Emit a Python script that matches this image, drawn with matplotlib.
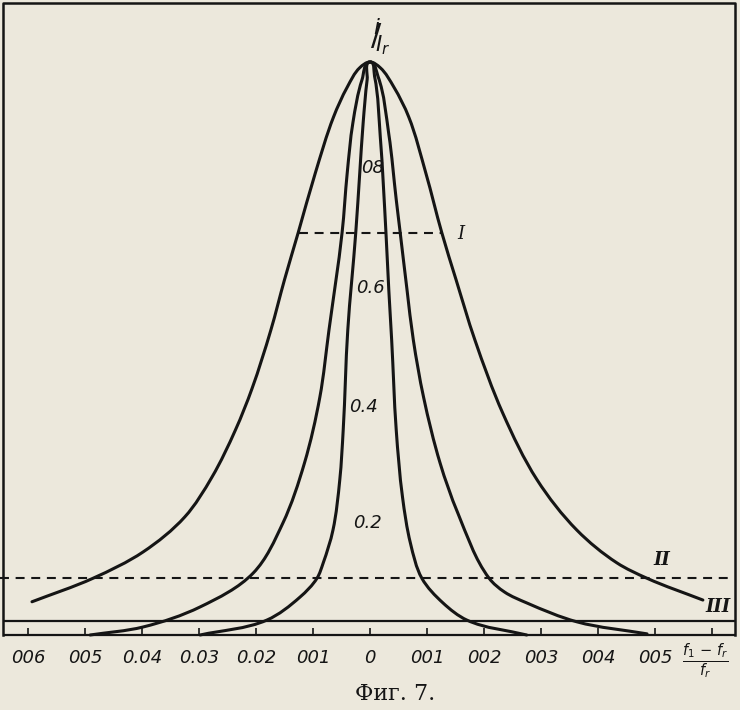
import matplotlib
matplotlib.use("Agg")
import matplotlib.pyplot as plt
from matplotlib.path import Path
from matplotlib.patches import PathPatch
import numpy as np

# ---------------- data ----------------
# relative detuning (f1 - fr)/fr  and  i/Ir for the three resonance curves
delta_wide = [-0.0593, -0.0486, -0.0398, -0.0325, -0.0277, -0.0236, -0.0207, -0.0174,
              -0.0150, -0.0126, -0.0096, -0.0064, -0.0040, -0.0018, 0.0,
              0.0018, 0.0042, 0.0068, 0.0098, 0.0126, 0.0151, 0.0184, 0.0233,
              0.0293, 0.0363, 0.0433, 0.0486, 0.0584]
ratio_wide = [0.058, 0.099, 0.145, 0.206, 0.276, 0.358, 0.430, 0.532,
              0.620, 0.702, 0.806, 0.904, 0.956, 0.990, 1.0,
              0.990, 0.956, 0.904, 0.806, 0.702, 0.620, 0.515, 0.387,
              0.271, 0.183, 0.126, 0.099, 0.061]

delta_mid = [-0.0491, -0.0398, -0.0298, -0.0205, -0.0153, -0.0115, -0.0088, -0.0072,
             -0.0049, -0.0040, -0.0030, -0.0014, 0.0,
             0.0014, 0.0033, 0.0046, 0.0053, 0.0065, 0.0076, 0.0094, 0.0123,
             0.0154, 0.0209, 0.0236, 0.0275, 0.0363, 0.0486]
ratio_mid = [0.0, 0.014, 0.049, 0.108, 0.195, 0.300, 0.415, 0.532,
             0.702, 0.806, 0.894, 0.969, 1.0,
             0.975, 0.874, 0.760, 0.702, 0.602, 0.515, 0.415, 0.300,
             0.213, 0.099, 0.075, 0.056, 0.023, 0.002]

delta_narrow = [-0.0298, -0.0181, -0.0123, -0.0093, -0.0082, -0.0065, -0.0053, -0.0047,
                -0.0039, -0.0025, -0.0018, -0.0012, -0.0005, 0.0,
                0.0008, 0.0018, 0.0028, 0.0033, 0.0038, 0.0046, 0.0057, 0.0071,
                0.0091, 0.0128, 0.0170, 0.0275]
ratio_narrow = [0.0, 0.026, 0.066, 0.099, 0.126, 0.183, 0.271, 0.358,
                0.532, 0.702, 0.806, 0.894, 0.969, 1.0,
                0.975, 0.870, 0.702, 0.602, 0.515, 0.358, 0.241, 0.160,
                0.099, 0.056, 0.026, 0.0]

level_I = 0.702
span_I = [-0.0125, 0.0125]
level_II = 0.1
span_II = [-0.0649, 0.0632]

x_ticks = [-0.06, -0.05, -0.04, -0.03, -0.02, -0.01, 0.0,
           0.01, 0.02, 0.03, 0.04, 0.05, 0.06]
x_ticklabels = ["006", "005", "0.04", "0.03", "0.02", "001", "0",
                "001", "002", "003", "004", "005"]
y_ticks = [0.2, 0.4, 0.6, 0.8]
y_ticklabels = ["0.2", "0.4", "0.6", "08"]

# ---------------- figure ----------------
W, H = 740, 710
X0, SX = 370.0, 5700.0    # pixel of zero detuning, pixels per unit
Y0, SY = 635.0, 573.0     # pixel of zero ratio, pixels per unit

bg = "#ece8dc"
ink = "#151515"

fig = plt.figure(figsize=(W / 100, H / 100), dpi=100)
fig.patch.set_facecolor(bg)
ax = fig.add_axes([0, 0, 1, 1])
ax.set_facecolor(bg)
ax.set_xlim(-X0 / SX, (W - X0) / SX)
ax.set_ylim((Y0 - H) / SY, Y0 / SY)
ax.axis("off")


def px(x, y):
    """pixel position -> figure fraction (for annotation placement)"""
    return x / W, 1 - y / H


def smooth_path(xs, ys):
    """Smooth Bezier path running through every read point (data coords)."""
    P = np.column_stack([np.asarray(xs) * SX, np.asarray(ys) * SY])
    n = len(P)
    T = np.zeros_like(P)
    for i in range(n):
        if i == 0:
            t = P[1] - P[0]
        elif i == n - 1:
            t = P[-1] - P[-2]
        else:
            a = P[i] - P[i - 1]
            b = P[i + 1] - P[i]
            t = a / np.hypot(*a) + b / np.hypot(*b)
        T[i] = t / np.hypot(*t)
    verts = [P[0]]
    codes = [Path.MOVETO]
    for i in range(n - 1):
        L = np.hypot(*(P[i + 1] - P[i])) / 3.0
        verts += [P[i] + T[i] * L, P[i + 1] - T[i + 1] * L, P[i + 1]]
        codes += [Path.CURVE4] * 3
    V = np.array(verts)
    V[:, 0] /= SX
    V[:, 1] /= SY
    return Path(V, codes)


# frame
xl, xr = (3 - X0) / SX, (735 - X0) / SX
yt = (Y0 - 3) / SY
ax.plot([xl, xl, xr, xr], [0, yt, yt, 0], color=ink, lw=1.8,
        solid_joinstyle="round")
# baseline pair and ticks
ax.hlines([0.0, 0.0244], xl, xr, color=ink, lw=1.6)
ax.vlines(x_ticks, 0.0, 0.0122, color=ink, lw=1.2)

# curves
for d, r in [(delta_wide, ratio_wide), (delta_mid, ratio_mid),
             (delta_narrow, ratio_narrow)]:
    ax.add_patch(PathPatch(smooth_path(d, r), fill=False, edgecolor=ink,
                           lw=2.2, capstyle="round", joinstyle="round"))

# dashed levels
ax.hlines(level_I, span_I[0], span_I[1], color=ink, lw=1.5,
          linestyles=(0, (4.3, 3.2)))
ax.hlines(level_II, span_II[0], span_II[1], color=ink, lw=1.5,
          linestyles=(0, (4.3, 3.2)))

tick_font = dict(family="DejaVu Sans", style="italic", size=13, color=ink)

# x tick labels
for t, lab in zip(x_ticks, x_ticklabels):
    ax.text(t, -0.040, lab, ha="center", va="center", **tick_font)

# y tick labels (placed near the centre line, between the curves)
y_label_dx = [-0.0004, -0.0012, 0.0000, 0.0005]
y_label_dy = [-0.005, -0.002, 0.006, 0.015]
for v, lab, dx, dy in zip(y_ticks, y_ticklabels, y_label_dx, y_label_dy):
    ax.text(dx, v + dy, lab, ha="center", va="center", **tick_font)

# x axis title (fraction)
fig.text(*px(705, 661), r"$\frac{f_1\,-\,f_r}{f_r}$", ha="center", va="center",
         size=15, color=ink)

# y axis title  i / Ir
fig.text(*px(380, 37), r"${}^{i}\!\!/\!{}_{I_r}$", ha="center", va="center",
         size=22, color=ink)

# curve / level labels
roman = dict(family="DejaVu Serif", style="italic", size=13, color=ink)
fig.text(*px(461, 234), "I", ha="center", va="center", **roman)
fig.text(*px(662, 560), "II", ha="center", va="center", weight="bold", **roman)
fig.text(*px(718, 607), "III", ha="center", va="center", weight="bold", **roman)

# caption
fig.text(*px(395, 694), "Фиг. 7.", ha="center", va="center", size=16,
         family="DejaVu Serif", color=ink)

fig.savefig("out.png", dpi=100, facecolor=bg)
